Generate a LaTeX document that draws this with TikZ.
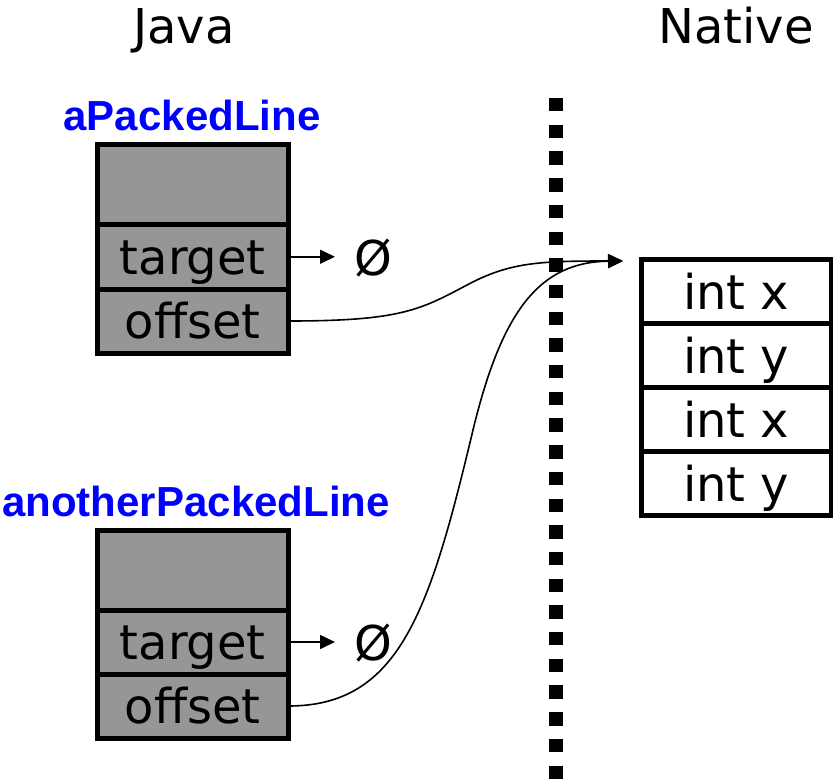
\documentclass[tikz,border=0pt]{standalone}
\usepackage{fontspec}
\setmainfont{DejaVu Sans}
\newfontfamily\labelfont{Liberation Sans}
\usetikzlibrary{arrows.meta}
\definecolor{cellgray}{RGB}{150,150,150}
\definecolor{varblue}{RGB}{0,0,255}
\begin{document}
\begin{tikzpicture}[x=1pt,y=-1pt,
  bigtext/.style={font=\fontsize{48}{58}\selectfont},
  cellbox/.style={draw=black, line width=5pt, inner sep=0pt, outer sep=0pt,
    bigtext, text height=35pt, text depth=0pt},
  javacell/.style={cellbox, fill=cellgray, minimum width=191.5pt},
  nativecell/.style={cellbox, fill=white, minimum width=190.5pt, minimum height=64pt},
  varname/.style={font=\labelfont\bfseries\fontsize{42}{50}\selectfont, text=varblue, anchor=base, inner sep=0pt},
  nullmark/.style={bigtext, anchor=base, inner sep=0pt},
  ptr/.style={line width=1.6pt, -{Triangle[length=15pt,width=14pt]}},
  heading/.style={bigtext, anchor=base, inner sep=0pt}]
\useasboundingbox (0,0) rectangle (833,782);

% column headings
\node[heading] (java) at (184,43) {Java};
\node[heading] (native) at (736,43) {Native};

% boundary between the two worlds
\draw[line width=13.4pt, dash pattern=on 13.4pt off 13.3pt] (556,98) -- (556,782);

% first Java object
\node[varname] (n1) at (192,130) {aPackedLine};
\node[javacell, minimum height=80pt] (h1) at (192.75,184.5) {};
\node[javacell, minimum height=64.5pt] (t1) at (192.75,256.75) {target};
\node[javacell, minimum height=64pt] (o1) at (192.75,321) {offset};
\node[nullmark] (z1) at (373.5,275) {Ø};

% second Java object
\node[varname] (n2) at (196,516) {anotherPackedLine};
\node[javacell, minimum height=79.5pt] (h2) at (192.75,570.25) {};
\node[javacell, minimum height=64pt] (t2) at (192.75,642) {target};
\node[javacell, minimum height=64pt] (o2) at (192.75,706) {offset};
\node[nullmark] (z2) at (373.5,660) {Ø};

% native memory block
\node[nativecell] (r1) at (736.25,291.5) {int x};
\node[nativecell] (r2) at (736.25,355.5) {int y};
\node[nativecell] (r3) at (736.25,419.5) {int x};
\node[nativecell] (r4) at (736.25,483.5) {int y};
\coordinate (tip) at (623,261);

% null targets
\draw[ptr] (t1.east) -- ++(46.5,0);
\draw[ptr] (t2.east) -- ++(46.5,0);

% offsets into native memory
\draw[ptr] (o1.east) .. controls (400,321) and (420,310) .. (467,285)
  .. controls (510,262) and (540,261) .. (tip);
\draw[ptr] (o2.east) .. controls (400,706) and (430,610) .. (473,430)
  .. controls (502,310) and (540,262) .. (tip);
\end{tikzpicture}
\end{document}
